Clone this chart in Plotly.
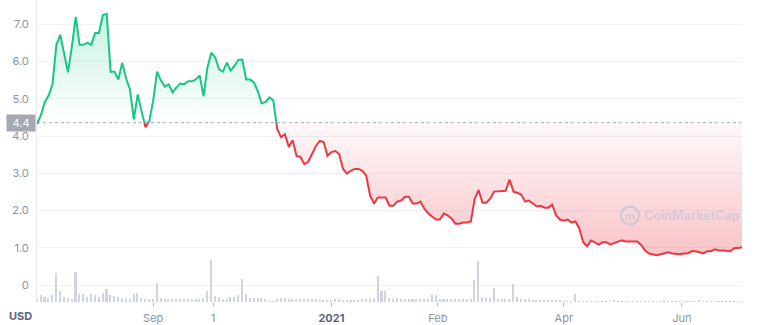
import pandas as pd
import plotly.graph_objects as go

# ---------------- data ----------------
start_date = "2020-07-03"          # first sample, one sample every 2 days
price = [
    4.33, 4.56, 4.91, 5.09, 5.39, 6.45, 6.72, 6.19, 5.71, 6.40,
    7.20, 6.45, 6.45, 6.51, 6.45, 6.77, 6.77, 7.25, 7.28, 5.73,
    5.73, 5.52, 5.97, 5.55, 5.25, 4.45, 5.12, 4.67, 4.24, 4.40,
    4.96, 5.73, 5.49, 5.33, 5.39, 5.17, 5.31, 5.41, 5.39, 5.47,
    5.47, 5.52, 5.63, 5.07, 5.84, 6.24, 6.11, 5.79, 5.73, 5.97,
    5.76, 5.89, 6.05, 6.05, 5.52, 5.52, 5.44, 5.20, 4.88, 4.91,
    5.04, 4.96, 4.19, 3.97, 4.05, 3.71, 3.89, 3.47, 3.44, 3.25,
    3.31, 3.52, 3.73, 3.87, 3.84, 3.47, 3.57, 3.60, 3.52, 3.12,
    2.99, 3.07, 3.12, 3.12, 3.07, 2.93, 2.40, 2.19, 2.35, 2.35,
    2.35, 2.13, 2.13, 2.24, 2.27, 2.37, 2.37, 2.19, 2.19, 2.24,
    2.05, 1.92, 1.84, 1.76, 1.76, 1.92, 1.87, 1.79, 1.65, 1.65,
    1.68, 1.68, 1.71, 2.32, 2.55, 2.21, 2.21, 2.32, 2.51, 2.51,
    2.51, 2.53, 2.83, 2.51, 2.48, 2.43, 2.24, 2.27, 2.19, 2.11,
    2.13, 2.08, 2.08, 2.16, 1.87, 1.76, 1.73, 1.76, 1.68, 1.71,
    1.52, 1.15, 1.04, 1.20, 1.15, 1.09, 1.15, 1.15, 1.09, 1.12,
    1.17, 1.20, 1.17, 1.17, 1.17, 1.17, 1.07, 0.93, 0.85, 0.83,
    0.80, 0.83, 0.85, 0.88, 0.85, 0.83, 0.83, 0.85, 0.85, 0.91,
    0.91, 0.88, 0.85, 0.91, 0.91, 0.96, 0.93, 0.93, 0.93, 0.91,
    0.99, 1.01, 1.01,
]
volume = [
    3, 8, 6, 5, 8, 30, 12, 6, 5, 4,
    31, 9, 9, 6, 9, 8, 6, 10, 14, 8,
    7, 6, 5, 3, 4, 9, 10, 5, 3, 3,
    3, 20, 5, 3, 3, 3, 3, 3, 4, 4,
    4, 4, 4, 5, 12, 44, 7, 6, 3, 3,
    6, 6, 8, 24, 9, 5, 5, 5, 5, 4,
    1, 1, 3, 5, 5, 4, 3, 3, 3, 3,
    3, 3, 3, 2, 2, 2, 2, 3, 4, 2,
    2, 2, 2, 2, 3, 4, 4, 5, 27, 12,
    12, 5, 4, 5, 4, 4, 4, 4, 3, 3,
    3, 3, 8, 8, 3, 3, 3, 3, 3, 3,
    3, 3, 3, 23, 42, 6, 5, 5, 15, 4,
    4, 4, 4, 19, 6, 3, 3, 3, 2, 2,
    2, 2, 2, 2, 2, 2, 1, 1, 1, 9,
    1, 1, 1, 1, 1, 1, 1, 1, 1, 2,
    1, 1, 1, 1, 1, 1, 1, 1, 1, 1,
    1, 1, 2, 1, 1, 1, 1, 1, 1, 1,
    1, 2, 1, 1, 1, 1, 1, 1, 1, 1,
    1, 1, 1,
]
baseline_price = 4.36
baseline_label = "4.4"
x_tick_dates = ["2020-09-01", "2020-10-02", "2020-12-02", "2021-01-26", "2021-04-01", "2021-06-01"]
x_tick_labels = ["Sep", "1", "<b><span style='color:#58667e'>2021</span></b>", "Feb", "Apr", "Jun"]
y_tick_values = [0, 1, 2, 3, 4, 5, 6, 7]
y_tick_labels = ["0", "1.0", "2.0", "3.0", "4.0", "5.0", "6.0", "7.0"]
currency = "USD"
watermark = "CoinMarketCap"

# ---------------- styling ----------------
GREEN = "#16c784"
RED = "#ea3943"
GRID = "#eff2f5"
TICK_COLOR = "#8a94a6"
FONT = "Inter"
Y_MIN, Y_MAX = -0.453, 7.653
split = (baseline_price - Y_MIN) / (Y_MAX - Y_MIN)

dates = pd.date_range(start_date, periods=len(price), freq="2D")
base_line = [baseline_price] * len(price)

fig = go.Figure()

# dotted reference line on the main axis
fig.add_trace(go.Scatter(
    x=[dates[0], dates[-1]], y=[baseline_price, baseline_price],
    mode="lines", line=dict(color="#a6abb5", width=1, dash="dot"),
    xaxis="x", yaxis="y", hoverinfo="skip", showlegend=False))

# green region (above baseline) -> y2, clipped to upper part
fig.add_trace(go.Scatter(x=dates, y=base_line, mode="lines", line=dict(width=0),
                         xaxis="x", yaxis="y2", hoverinfo="skip", showlegend=False))
fig.add_trace(go.Scatter(
    x=dates, y=price, mode="lines", line=dict(color=GREEN, width=2),
    fill="tonexty",
    fillgradient=dict(type="vertical", start=baseline_price, stop=max(price),
                      colorscale=[[0, "rgba(22,199,132,0.0)"], [1, "rgba(22,199,132,0.24)"]]),
    xaxis="x", yaxis="y2", showlegend=False))

# red region (below baseline) -> y3, clipped to lower part
fig.add_trace(go.Scatter(x=dates, y=base_line, mode="lines", line=dict(width=0),
                         xaxis="x", yaxis="y3", hoverinfo="skip", showlegend=False))
fig.add_trace(go.Scatter(
    x=dates, y=price, mode="lines", line=dict(color=RED, width=2),
    fill="tonexty",
    fillgradient=dict(type="vertical", start=min(price), stop=baseline_price,
                      colorscale=[[0, "rgba(234,57,67,0.30)"], [1, "rgba(234,57,67,0.03)"]]),
    xaxis="x", yaxis="y3", showlegend=False))

# volume bars
fig.add_trace(go.Bar(
    x=dates, y=volume, width=0.8 * 86400000,
    marker=dict(color="#cdd4e2", line=dict(width=0)),
    xaxis="x", yaxis="y4", showlegend=False))

fig.update_layout(
    width=760, height=325,
    margin=dict(l=37, r=18, t=0, b=21),
    paper_bgcolor="white",
    plot_bgcolor="rgba(0,0,0,0)",
    font=dict(family=FONT, size=11, color=TICK_COLOR),
    xaxis=dict(
        type="date", range=[dates[0], dates[-1]],
        tickvals=pd.to_datetime(x_tick_dates), ticktext=x_tick_labels,
        showgrid=False, zeroline=False, showline=False,
        ticks="outside", ticklen=3, tickcolor="#a3abba", tickwidth=1,
        ticklabelstandoff=3,
        tickfont=dict(family=FONT, size=11, color=TICK_COLOR),
        anchor="y",
    ),
    yaxis=dict(
        domain=[0, 1], range=[Y_MIN, Y_MAX],
        tickvals=y_tick_values, ticktext=y_tick_labels,
        showgrid=True, gridcolor=GRID, gridwidth=1,
        zeroline=False, showline=True, linecolor="#e6e9ee", linewidth=1,
        ticks="", ticklabelstandoff=5,
        tickfont=dict(family=FONT, size=11, color=TICK_COLOR),
        anchor="x",
    ),
    yaxis2=dict(domain=[split, 1], range=[baseline_price, Y_MAX], visible=False,
                showgrid=False, zeroline=False, anchor="x"),
    yaxis3=dict(domain=[0, split], range=[Y_MIN, baseline_price], visible=False,
                showgrid=False, zeroline=False, anchor="x"),
    yaxis4=dict(domain=[0, 0.2], range=[0, 62], visible=False,
                showgrid=False, zeroline=False, anchor="x"),
    bargap=0,
)

# baseline value label
fig.add_annotation(
    text=baseline_label, xref="paper", x=0, xanchor="right", xshift=-1,
    yref="y", y=baseline_price, yanchor="middle",
    showarrow=False, bgcolor="#a3a8b3", width=26, height=14,
    font=dict(family=FONT, size=11, color="white"))

# currency label
fig.add_annotation(
    text="<b>" + currency + "</b>", xref="paper", x=-0.0227, xanchor="center",
    yref="paper", y=-0.046, yanchor="middle", showarrow=False,
    font=dict(family=FONT, size=11, color="#58667e"))

# watermark
fig.add_annotation(
    text="<b>" + watermark + "</b>", xref="paper", x=0.858, xanchor="left",
    yref="y", y=1.867, yanchor="middle", showarrow=False,
    font=dict(family=FONT, size=12.5, color="rgba(170,188,214,0.45)"))
fig.add_shape(type="circle", xref="paper", yref="y",
              x0=0.8284, x1=0.8539, y0=1.627, y1=2.107,
              line=dict(color="rgba(170,188,214,0.5)", width=2.5))
fig.add_annotation(
    text="<b>m</b>", xref="paper", x=0.8411, xanchor="center",
    yref="y", y=1.867, yanchor="middle", showarrow=False,
    font=dict(family=FONT, size=11, color="rgba(170,188,214,0.55)"))

fig.write_html("out.html")
